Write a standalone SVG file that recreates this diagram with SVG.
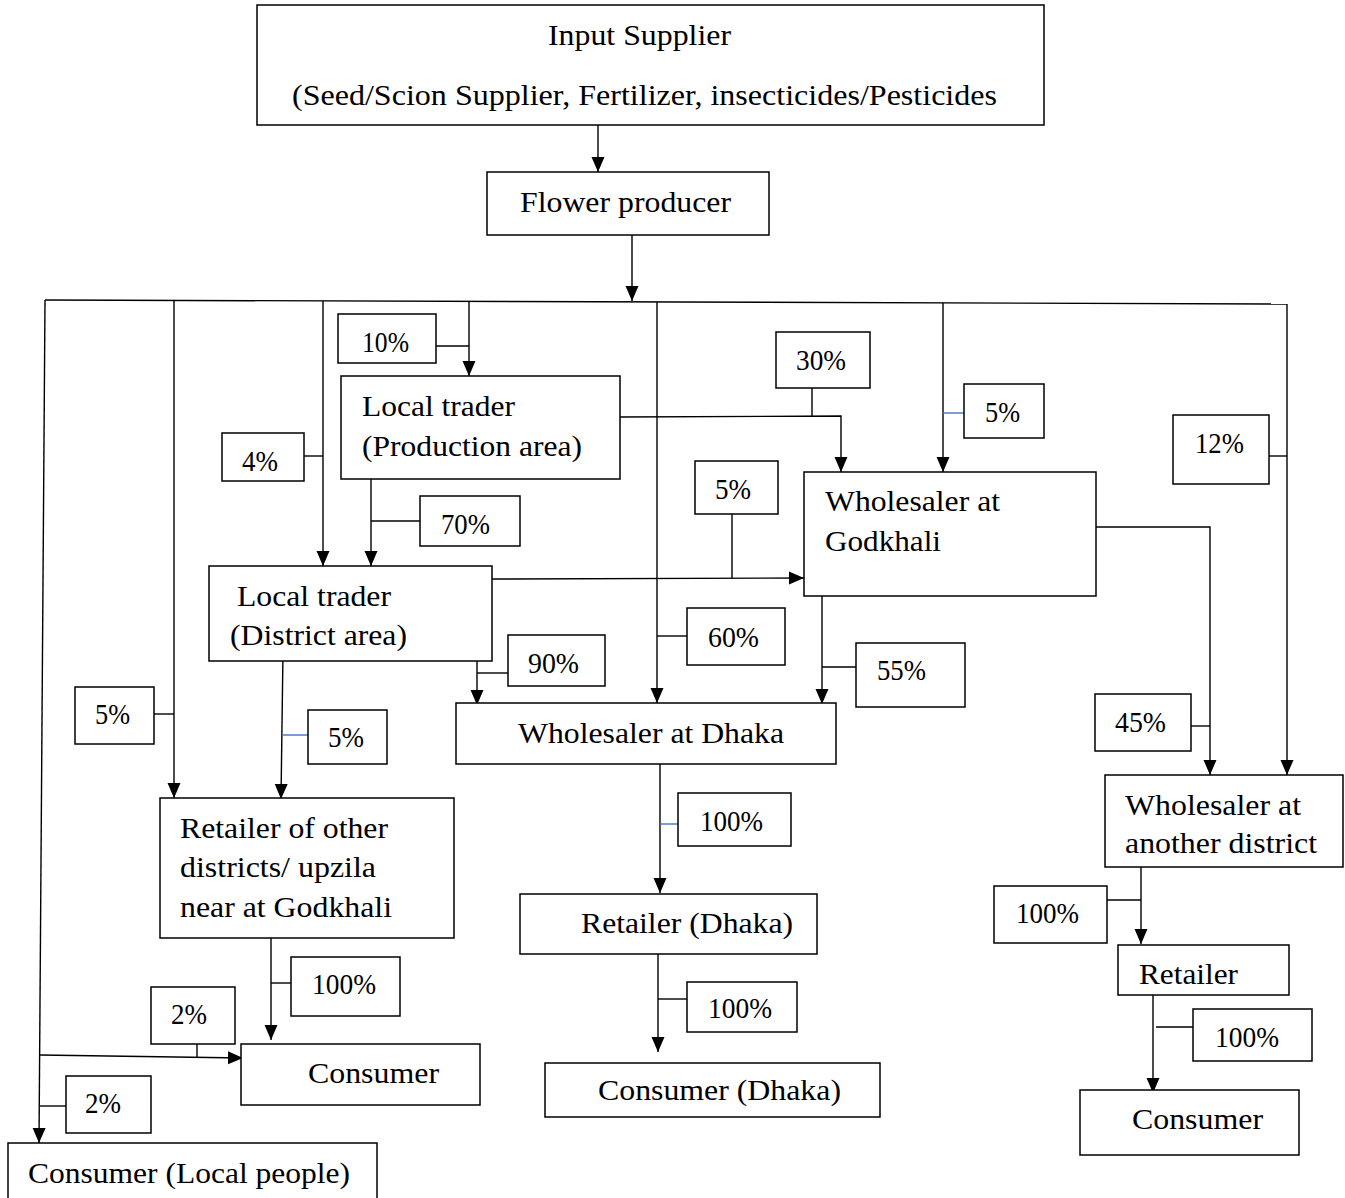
<svg xmlns="http://www.w3.org/2000/svg" width="1345" height="1198" viewBox="0 0 1345 1198">
<style>
  .box { fill: #ffffff; stroke: #000000; stroke-width: 1.5; }
  .t { font-family: "Liberation Serif", "Times New Roman", serif; font-size: 30px; fill: #000000; }
  .ln { fill: none; stroke: #000000; stroke-width: 1.4; }
  .blue { fill: none; stroke: #4472c4; stroke-width: 1.4; }
  .arr { marker-end: url(#ah); }
</style>
<defs>
  <marker id="ah" markerUnits="userSpaceOnUse" markerWidth="15" markerHeight="15" viewBox="0 0 15 15" refX="15" refY="7.5" orient="auto">
    <path d="M0,1 L15,7.5 L0,14 Z" fill="#000000"/>
  </marker>
</defs>
<rect width="1345" height="1198" fill="#ffffff"/>

<g id="connectors">
  <line class="ln arr" x1="598" y1="125" x2="598" y2="172"/>
  <line class="ln arr" x1="632" y1="235" x2="632" y2="301"/>
  <line class="ln" x1="45" y1="300" x2="1287" y2="304"/>
  <polyline class="ln arr" points="45,300 39,1143"/>
  <line class="ln arr" x1="174" y1="301" x2="174" y2="798"/>
  <line class="ln arr" x1="323" y1="301" x2="323" y2="566"/>
  <line class="ln arr" x1="469" y1="301" x2="469" y2="376"/>
  <line class="ln" x1="436" y1="346" x2="469" y2="346"/>
  <line class="ln" x1="304" y1="456" x2="323" y2="456"/>
  <line class="ln arr" x1="371" y1="479" x2="371" y2="566"/>
  <line class="ln" x1="371" y1="521" x2="420" y2="521"/>
  <polyline class="ln arr" points="620,417 841,416 841,472"/>
  <line class="ln" x1="812" y1="388" x2="812" y2="416"/>
  <line class="ln arr" x1="943" y1="303" x2="943" y2="472"/>
  <line class="blue" x1="943" y1="413" x2="964" y2="413"/>
  <line class="ln arr" x1="657" y1="302" x2="657" y2="703"/>
  <line class="ln" x1="657" y1="636" x2="687" y2="636"/>
  <polyline class="ln arr" points="492,579 804,578"/>
  <line class="ln" x1="732" y1="514" x2="732" y2="578"/>
  <polyline class="ln arr" points="1096,527 1210,527 1210,775"/>
  <line class="ln" x1="1191" y1="726" x2="1210" y2="726"/>
  <line class="ln arr" x1="1287" y1="304" x2="1287" y2="775"/>
  <line class="ln" x1="1269" y1="456" x2="1287" y2="456"/>
  <line class="ln arr" x1="822" y1="596" x2="822" y2="704"/>
  <line class="ln" x1="822" y1="667" x2="856" y2="667"/>
  <line class="ln arr" x1="477" y1="651" x2="477" y2="705"/>
  <line class="ln" x1="477" y1="673" x2="508" y2="673"/>
  <line class="ln arr" x1="283" y1="651" x2="281" y2="799"/>
  <line class="blue" x1="283" y1="735" x2="308" y2="735"/>
  <line class="ln" x1="154" y1="714" x2="174" y2="714"/>
  <line class="ln arr" x1="660" y1="764" x2="660" y2="893"/>
  <line class="blue" x1="660" y1="824" x2="678" y2="824"/>
  <line class="ln arr" x1="658" y1="954" x2="658" y2="1052"/>
  <line class="ln" x1="658" y1="999" x2="687" y2="999"/>
  <line class="ln arr" x1="271" y1="938" x2="271" y2="1040"/>
  <line class="ln" x1="271" y1="983" x2="291" y2="983"/>
  <polyline class="ln arr" points="40,1055 243,1058"/>
  <line class="ln" x1="197" y1="1044" x2="197" y2="1057"/>
  <line class="ln" x1="40" y1="1106" x2="66" y2="1106"/>
  <line class="ln arr" x1="1141" y1="867" x2="1141" y2="944"/>
  <line class="ln" x1="1107" y1="900" x2="1141" y2="900"/>
  <line class="ln arr" x1="1153" y1="995" x2="1153" y2="1093"/>
  <line class="ln" x1="1156" y1="1027" x2="1193" y2="1027"/>
</g>

<g id="input-supplier">
  <rect class="box" x="257" y="5" width="787" height="120"/>
  <text class="t" x="548" y="45" textLength="183" lengthAdjust="spacingAndGlyphs">Input Supplier</text>
  <text class="t" x="292" y="105" textLength="705" lengthAdjust="spacingAndGlyphs">(Seed/Scion Supplier, Fertilizer, insecticides/Pesticides</text>
</g>
<g id="flower-producer">
  <rect class="box" x="487" y="172" width="282" height="63"/>
  <text class="t" x="520" y="212" textLength="211" lengthAdjust="spacingAndGlyphs">Flower producer</text>
</g>
<g id="local-trader-production">
  <rect class="box" x="341" y="376" width="279" height="103"/>
  <text class="t" x="362" y="416" textLength="153" lengthAdjust="spacingAndGlyphs">Local trader</text>
  <text class="t" x="362" y="456" textLength="220" lengthAdjust="spacingAndGlyphs">(Production area)</text>
</g>
<g id="wholesaler-godkhali">
  <rect class="box" x="804" y="472" width="292" height="124"/>
  <text class="t" x="825" y="511" textLength="175" lengthAdjust="spacingAndGlyphs">Wholesaler at</text>
  <text class="t" x="825" y="551" textLength="116" lengthAdjust="spacingAndGlyphs">Godkhali</text>
</g>
<g id="local-trader-district">
  <rect class="box" x="209" y="566" width="283" height="95"/>
  <text class="t" x="237" y="606" textLength="154" lengthAdjust="spacingAndGlyphs">Local trader</text>
  <text class="t" x="230" y="645" textLength="177" lengthAdjust="spacingAndGlyphs">(District area)</text>
</g>
<g id="wholesaler-dhaka">
  <rect class="box" x="456" y="703" width="380" height="61"/>
  <text class="t" x="518" y="743" textLength="266" lengthAdjust="spacingAndGlyphs">Wholesaler at Dhaka</text>
</g>
<g id="wholesaler-another-district">
  <rect class="box" x="1105" y="775" width="238" height="92"/>
  <text class="t" x="1125" y="815" textLength="176" lengthAdjust="spacingAndGlyphs">Wholesaler at</text>
  <text class="t" x="1125" y="853" textLength="192" lengthAdjust="spacingAndGlyphs">another district</text>
</g>
<g id="retailer-other-districts">
  <rect class="box" x="160" y="798" width="294" height="140"/>
  <text class="t" x="180" y="838" textLength="208" lengthAdjust="spacingAndGlyphs">Retailer of other</text>
  <text class="t" x="180" y="877" textLength="196" lengthAdjust="spacingAndGlyphs">districts/ upzila</text>
  <text class="t" x="180" y="917" textLength="212" lengthAdjust="spacingAndGlyphs">near at Godkhali</text>
</g>
<g id="retailer-dhaka">
  <rect class="box" x="520" y="894" width="297" height="60"/>
  <text class="t" x="581" y="933" textLength="212" lengthAdjust="spacingAndGlyphs">Retailer (Dhaka)</text>
</g>
<g id="consumer-dhaka">
  <rect class="box" x="545" y="1063" width="335" height="54"/>
  <text class="t" x="598" y="1100" textLength="243" lengthAdjust="spacingAndGlyphs">Consumer (Dhaka)</text>
</g>
<g id="consumer-godkhali">
  <rect class="box" x="241" y="1044" width="239" height="61"/>
  <text class="t" x="308" y="1083" textLength="131" lengthAdjust="spacingAndGlyphs">Consumer</text>
</g>
<g id="consumer-local">
  <rect class="box" x="8" y="1143" width="369" height="70"/>
  <text class="t" x="28" y="1183" textLength="322" lengthAdjust="spacingAndGlyphs">Consumer (Local people)</text>
</g>
<g id="retailer-other">
  <rect class="box" x="1118" y="945" width="171" height="50"/>
  <text class="t" x="1139" y="984" textLength="99" lengthAdjust="spacingAndGlyphs">Retailer</text>
</g>
<g id="consumer-other">
  <rect class="box" x="1080" y="1090" width="219" height="65"/>
  <text class="t" x="1132" y="1129" textLength="131" lengthAdjust="spacingAndGlyphs">Consumer</text>
</g>

<g id="label-10">
  <rect class="box" x="338" y="314" width="98" height="49"/>
  <text class="t" x="362" y="352" textLength="47" lengthAdjust="spacingAndGlyphs">10%</text>
</g>
<g id="label-4">
  <rect class="box" x="222" y="433" width="82" height="48"/>
  <text class="t" x="242" y="471" textLength="36" lengthAdjust="spacingAndGlyphs">4%</text>
</g>
<g id="label-70">
  <rect class="box" x="420" y="496" width="100" height="50"/>
  <text class="t" x="441" y="534" textLength="49" lengthAdjust="spacingAndGlyphs">70%</text>
</g>
<g id="label-30">
  <rect class="box" x="776" y="332" width="94" height="56"/>
  <text class="t" x="796" y="370" textLength="50" lengthAdjust="spacingAndGlyphs">30%</text>
</g>
<g id="label-5-godkhali">
  <rect class="box" x="964" y="384" width="80" height="54"/>
  <text class="t" x="985" y="422" textLength="35" lengthAdjust="spacingAndGlyphs">5%</text>
</g>
<g id="label-12">
  <rect class="box" x="1173" y="415" width="96" height="69"/>
  <text class="t" x="1195" y="453" textLength="49" lengthAdjust="spacingAndGlyphs">12%</text>
</g>
<g id="label-5-district-godkhali">
  <rect class="box" x="695" y="461" width="83" height="53"/>
  <text class="t" x="715" y="499" textLength="36" lengthAdjust="spacingAndGlyphs">5%</text>
</g>
<g id="label-90">
  <rect class="box" x="508" y="635" width="97" height="51"/>
  <text class="t" x="528" y="673" textLength="51" lengthAdjust="spacingAndGlyphs">90%</text>
</g>
<g id="label-60">
  <rect class="box" x="687" y="608" width="98" height="57"/>
  <text class="t" x="708" y="647" textLength="51" lengthAdjust="spacingAndGlyphs">60%</text>
</g>
<g id="label-55">
  <rect class="box" x="856" y="643" width="109" height="64"/>
  <text class="t" x="877" y="680" textLength="49" lengthAdjust="spacingAndGlyphs">55%</text>
</g>
<g id="label-45">
  <rect class="box" x="1095" y="694" width="96" height="57"/>
  <text class="t" x="1115" y="732" textLength="51" lengthAdjust="spacingAndGlyphs">45%</text>
</g>
<g id="label-5-left">
  <rect class="box" x="75" y="687" width="79" height="57"/>
  <text class="t" x="95" y="724" textLength="35" lengthAdjust="spacingAndGlyphs">5%</text>
</g>
<g id="label-5-middle">
  <rect class="box" x="308" y="710" width="79" height="54"/>
  <text class="t" x="328" y="747" textLength="36" lengthAdjust="spacingAndGlyphs">5%</text>
</g>
<g id="label-100-dhaka-wholesale">
  <rect class="box" x="678" y="793" width="113" height="53"/>
  <text class="t" x="700" y="831" textLength="63" lengthAdjust="spacingAndGlyphs">100%</text>
</g>
<g id="label-100-dhaka-retail">
  <rect class="box" x="687" y="982" width="110" height="50"/>
  <text class="t" x="708" y="1018" textLength="64" lengthAdjust="spacingAndGlyphs">100%</text>
</g>
<g id="label-100-other-retail">
  <rect class="box" x="291" y="957" width="109" height="59"/>
  <text class="t" x="312" y="994" textLength="64" lengthAdjust="spacingAndGlyphs">100%</text>
</g>
<g id="label-2-upper">
  <rect class="box" x="151" y="987" width="84" height="57"/>
  <text class="t" x="171" y="1024" textLength="36" lengthAdjust="spacingAndGlyphs">2%</text>
</g>
<g id="label-2-lower">
  <rect class="box" x="66" y="1076" width="85" height="57"/>
  <text class="t" x="85" y="1113" textLength="36" lengthAdjust="spacingAndGlyphs">2%</text>
</g>
<g id="label-100-another-wholesale">
  <rect class="box" x="994" y="886" width="113" height="57"/>
  <text class="t" x="1016" y="923" textLength="63" lengthAdjust="spacingAndGlyphs">100%</text>
</g>
<g id="label-100-another-retail">
  <rect class="box" x="1193" y="1009" width="119" height="52"/>
  <text class="t" x="1215" y="1047" textLength="64" lengthAdjust="spacingAndGlyphs">100%</text>
</g>
</svg>
